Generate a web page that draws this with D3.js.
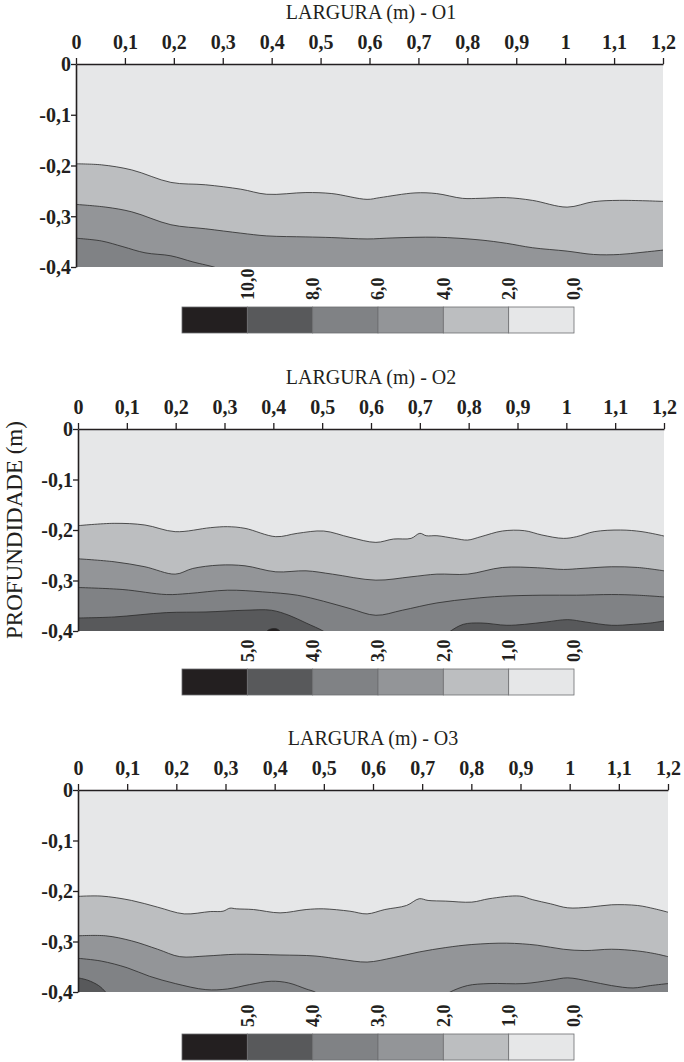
<!DOCTYPE html>
<html>
<head>
<meta charset="utf-8">
<script src="https://cdn.jsdelivr.net/npm/d3@7"></script>
<style>
  html, body { margin: 0; padding: 0; background: #ffffff; }
  svg { display: block; }
  text { font-family: "Liberation Serif", "Times New Roman", serif; fill: #231f20; }
</style>
</head>
<body>
<svg id="chart" width="684" height="1062"></svg>
<script>
// Axis ticks (metres)
const xTickValues = [0, 0.1, 0.2, 0.3, 0.4, 0.5, 0.6, 0.7, 0.8, 0.9, 1, 1.1, 1.2];
const yTickValues = [0, -0.1, -0.2, -0.3, -0.4];

// Legend labels, dark to light
const legendO1 = ["10,0", "8,0", "6,0", "4,0", "2,0", "0,0"];
const legendO2 = ["5,0", "4,0", "3,0", "2,0", "1,0", "0,0"];
const legendO3 = ["5,0", "4,0", "3,0", "2,0", "1,0", "0,0"];

// Grey ramp, light to dark
const bandColors = ["#e6e7e8", "#bcbec0", "#939598", "#808285", "#58595b", "#231f20"];

// Isolines, [width (m), depth (m)]
// O1
const o1Iso2 = [[0,-0.1967],[0.052,-0.1987],[0.114,-0.2087],[0.194,-0.2333],[0.265,-0.238],[0.337,-0.2467],[0.39,-0.2567],[0.47,-0.2533],[0.523,-0.2553],[0.595,-0.2667],[0.621,-0.2633],[0.693,-0.254],[0.737,-0.2553],[0.79,-0.2647],[0.826,-0.2647],[0.88,-0.2633],[0.933,-0.2687],[1.004,-0.282],[1.058,-0.2713],[1.111,-0.2687],[1.2,-0.2707]];
const o1Iso4 = [[0,-0.2767],[0.061,-0.282],[0.114,-0.2913],[0.194,-0.3167],[0.265,-0.3247],[0.337,-0.3333],[0.39,-0.3387],[0.47,-0.3407],[0.523,-0.342],[0.595,-0.3447],[0.648,-0.3427],[0.737,-0.3413],[0.826,-0.3467],[0.88,-0.3533],[0.933,-0.362],[1.004,-0.3687],[1.058,-0.3753],[1.111,-0.3753],[1.155,-0.3713],[1.2,-0.3667]];
const o1Iso6 = [[0,-0.3433],[0.052,-0.3487],[0.096,-0.36],[0.141,-0.372],[0.194,-0.378],[0.239,-0.39],[0.288,-0.402],[0.3,-0.408]];

// O2
const o2Iso1 = [[0,-0.1914],[0.074,-0.1868],[0.137,-0.1901],[0.199,-0.2033],[0.271,-0.1954],[0.306,-0.1934],[0.342,-0.1967],[0.405,-0.2132],[0.449,-0.2066],[0.503,-0.202],[0.557,-0.2146],[0.61,-0.2245],[0.646,-0.2179],[0.682,-0.2166],[0.70,-0.2066],[0.713,-0.2113],[0.735,-0.2113],[0.771,-0.2166],[0.798,-0.2199],[0.825,-0.2132],[0.869,-0.202],[0.914,-0.2013],[0.95,-0.2099],[0.994,-0.2166],[1.021,-0.2132],[1.057,-0.2033],[1.111,-0.2],[1.155,-0.2033],[1.2,-0.2119]];
const o2Iso2 = [[0,-0.257],[0.074,-0.2629],[0.137,-0.2728],[0.199,-0.2874],[0.235,-0.2762],[0.289,-0.2695],[0.342,-0.2709],[0.405,-0.2828],[0.467,-0.2808],[0.521,-0.2874],[0.61,-0.2993],[0.682,-0.2927],[0.735,-0.2874],[0.798,-0.2874],[0.869,-0.2742],[0.941,-0.2748],[0.994,-0.2781],[1.03,-0.2762],[1.093,-0.2728],[1.146,-0.2742],[1.2,-0.2808]];
const o2Iso3 = [[0,-0.3139],[0.092,-0.3179],[0.181,-0.3278],[0.226,-0.3258],[0.306,-0.3192],[0.378,-0.3225],[0.449,-0.3291],[0.503,-0.3411],[0.557,-0.3556],[0.61,-0.3689],[0.664,-0.3589],[0.735,-0.3444],[0.807,-0.3358],[0.869,-0.3311],[0.95,-0.3291],[1.021,-0.3291],[1.093,-0.3278],[1.146,-0.3291],[1.2,-0.3325]];
const o2Iso4a = [[0,-0.3742],[0.074,-0.3722],[0.181,-0.3636],[0.262,-0.3623],[0.342,-0.3589],[0.396,-0.3589],[0.432,-0.3689],[0.467,-0.3841],[0.503,-0.4007],[0.515,-0.41]];
const o2Iso4b = [[0.75,-0.41],[0.762,-0.4007],[0.789,-0.3868],[0.825,-0.3841],[0.878,-0.3887],[0.914,-0.3868],[0.959,-0.3821],[1.003,-0.3775],[1.039,-0.3821],[1.093,-0.3887],[1.137,-0.3868],[1.173,-0.3841],[1.2,-0.3801]];
const o2Iso5 = [[0.384,-0.405],[0.389,-0.3985],[0.397,-0.3955],[0.406,-0.3955],[0.413,-0.3995],[0.416,-0.405]];

// O3
const o3Iso1 = [[0,-0.2107],[0.047,-0.21],[0.109,-0.2187],[0.162,-0.232],[0.216,-0.2453],[0.269,-0.2407],[0.295,-0.24],[0.309,-0.234],[0.322,-0.2353],[0.357,-0.2367],[0.411,-0.2433],[0.464,-0.2367],[0.499,-0.2353],[0.553,-0.24],[0.588,-0.2453],[0.624,-0.2367],[0.668,-0.2287],[0.694,-0.2153],[0.712,-0.2187],[0.748,-0.22],[0.801,-0.222],[0.836,-0.2153],[0.898,-0.21],[0.925,-0.2173],[0.961,-0.2253],[0.996,-0.2333],[1.04,-0.232],[1.085,-0.2273],[1.138,-0.2287],[1.173,-0.2353],[1.2,-0.242]];
const o3Iso2 = [[0,-0.2887],[0.056,-0.2887],[0.109,-0.2987],[0.162,-0.3153],[0.207,-0.33],[0.26,-0.3287],[0.322,-0.3253],[0.411,-0.3267],[0.482,-0.3287],[0.535,-0.3353],[0.588,-0.3407],[0.641,-0.332],[0.694,-0.3207],[0.748,-0.312],[0.801,-0.306],[0.872,-0.3033],[0.934,-0.3073],[0.987,-0.3153],[1.031,-0.318],[1.085,-0.3153],[1.138,-0.3187],[1.173,-0.324],[1.2,-0.33]];
const o3Iso3a = [[0,-0.3333],[0.047,-0.3387],[0.1,-0.352],[0.145,-0.3687],[0.198,-0.3833],[0.26,-0.3953],[0.304,-0.394],[0.349,-0.3853],[0.393,-0.3787],[0.428,-0.382],[0.464,-0.394],[0.482,-0.4],[0.49,-0.406]];
const o3Iso3b = [[0.748,-0.406],[0.757,-0.4],[0.792,-0.3873],[0.836,-0.3833],[0.907,-0.3833],[0.961,-0.3767],[0.996,-0.372],[1.04,-0.3787],[1.085,-0.3873],[1.129,-0.392],[1.164,-0.3873],[1.2,-0.3833]];
const o3Iso4 = [[0,-0.372],[0.02,-0.3767],[0.042,-0.3873],[0.056,-0.4],[0.06,-0.406]];

const svg = d3.select("#chart");

const fmtX = v => (v === 0 ? "0" : String(+v.toFixed(1)).replace(".", ","));
const fmtY = v => (v === 0 ? "0" : String(+v.toFixed(1)).replace(".", ","));

function drawPanel(p) {
  const g = svg.append("g");
  const x = d3.scaleLinear().domain([0, 1.2]).range([p.left, p.right]);
  const y = d3.scaleLinear().domain([-0.4, 0]).range([p.bottom, p.top]);

  const clipId = "clip-" + p.id;
  svg.append("clipPath").attr("id", clipId)
    .append("rect")
    .attr("x", x(0)).attr("y", y(0))
    .attr("width", x(1.2) - x(0)).attr("height", y(-0.4) - y(0));

  const plot = g.append("g").attr("clip-path", `url(#${clipId})`);
  plot.append("rect")
    .attr("x", x(0)).attr("y", y(0))
    .attr("width", x(1.2) - x(0)).attr("height", y(-0.4) - y(0))
    .attr("fill", bandColors[0]);

  const area = d3.area()
    .curve(d3.curveCatmullRom.alpha(0.5))
    .x(d => x(d[0]))
    .y0(y(-0.45))
    .y1(d => y(d[1]));
  const line = d3.line()
    .curve(d3.curveCatmullRom.alpha(0.5))
    .x(d => x(d[0]))
    .y(d => y(d[1]));

  p.levels.forEach(lv => {
    lv.segments.forEach(seg => {
      plot.append("path").attr("d", area(seg)).attr("fill", bandColors[lv.band]);
      plot.append("path").attr("d", line(seg))
        .attr("fill", "none").attr("stroke", "#2b2b2b").attr("stroke-width", 0.8);
    });
  });

  // Axes
  const ax = g.append("g").attr("transform", `translate(0,${y(0)})`)
    .call(d3.axisTop(x).tickValues(xTickValues).tickFormat(fmtX).tickSize(6).tickSizeOuter(0));
  const ay = g.append("g").attr("transform", `translate(${x(0)},0)`)
    .call(d3.axisLeft(y).tickValues(yTickValues).tickFormat(fmtY).tickSize(5).tickSizeOuter(0));
  [ax, ay].forEach(a => {
    a.select(".domain").attr("stroke", "#231f20").attr("stroke-width", 1.6);
    a.selectAll(".tick line").attr("stroke", "#231f20").attr("stroke-width", 1.3);
    a.selectAll(".tick text")
      .attr("fill", "#231f20")
      .style("font-family", '"Liberation Serif", serif')
      .style("font-weight", "bold")
      .style("font-size", "20px");
  });
  ax.selectAll(".tick text").attr("y", -15).attr("dy", 0);
  ay.selectAll(".tick text").attr("x", -5).attr("dy", "0.34em");

  // Title
  g.append("text")
    .attr("x", p.titleX).attr("y", y(0) - 45)
    .attr("text-anchor", "middle")
    .style("font-size", "20px")
    .text(p.title);

  // Legend
  const lx = d3.scaleLinear().domain([0, p.legend.length]).range([182, 574]);
  const lg = g.append("g");
  p.legend.forEach((lab, i) => {
    lg.append("rect")
      .attr("x", lx(i)).attr("y", p.legendTop)
      .attr("width", lx(i + 1) - lx(i)).attr("height", 26)
      .attr("fill", bandColors[bandColors.length - 1 - i])
      .attr("stroke", "#6d6e71").attr("stroke-width", 0.8);
    lg.append("text")
      .attr("transform", `translate(${lx(i + 1)},${p.legendTop - 7}) rotate(-90)`)
      .attr("text-anchor", "start")
      .attr("dy", "0.35em")
      .style("font-weight", "bold")
      .style("font-size", p.legendFont + "px")
      .text(lab);
  });
}

drawPanel({
  id: "o1", title: "LARGURA (m) - O1", titleX: 371,
  left: 76, right: 663, top: 64, bottom: 267,
  legend: legendO1, legendTop: 307, legendFont: 18,
  levels: [
    { band: 1, segments: [o1Iso2] },
    { band: 2, segments: [o1Iso4] },
    { band: 3, segments: [o1Iso6] }
  ]
});

drawPanel({
  id: "o2", title: "LARGURA (m) - O2", titleX: 371,
  left: 78, right: 664, top: 429, bottom: 631,
  legend: legendO2, legendTop: 669, legendFont: 18,
  levels: [
    { band: 1, segments: [o2Iso1] },
    { band: 2, segments: [o2Iso2] },
    { band: 3, segments: [o2Iso3] },
    { band: 4, segments: [o2Iso4a, o2Iso4b] },
    { band: 5, segments: [o2Iso5] }
  ]
});

drawPanel({
  id: "o3", title: "LARGURA (m) - O3", titleX: 373,
  left: 78, right: 668, top: 790, bottom: 992,
  legend: legendO3, legendTop: 1034, legendFont: 18,
  levels: [
    { band: 1, segments: [o3Iso1] },
    { band: 2, segments: [o3Iso2] },
    { band: 3, segments: [o3Iso3a, o3Iso3b] },
    { band: 4, segments: [o3Iso4] }
  ]
});

// Shared vertical axis title
svg.append("text")
  .attr("transform", "translate(14,530) rotate(-90)")
  .attr("text-anchor", "middle")
  .attr("dy", "0.35em")
  .style("font-size", "23px")
  .text("PROFUNDIDADE (m)");
</script>
</body>
</html>
